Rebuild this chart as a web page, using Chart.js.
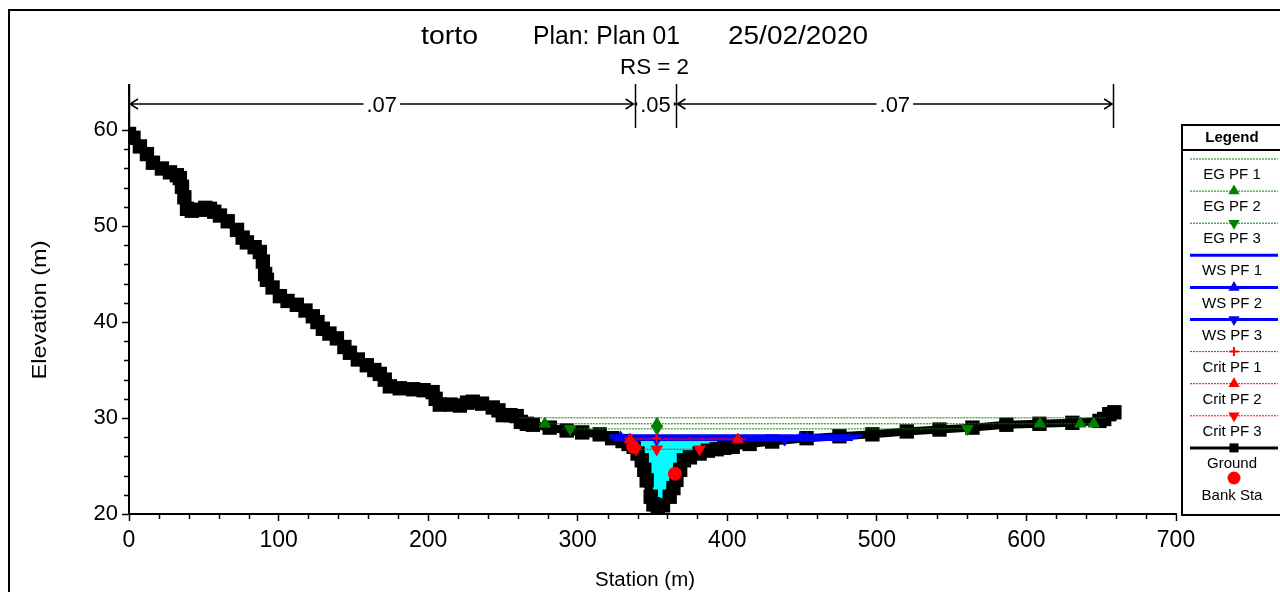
<!DOCTYPE html>
<html lang="en">
<head>
    <meta charset="UTF-8">
    <title>torto - Plan 01 - RS = 2</title>
    <script src="https://cdn.jsdelivr.net/npm/chart.js"></script>
    <style>
        html, body { margin: 0; padding: 0; background: #fff; }
        #wrap { width: 1280px; height: 592px; }
    </style>
</head>
<body>
<div id="wrap"><canvas id="xsChart" width="1280" height="592"></canvas></div>

<script>
    // Ground profile (station m / elevation m)
    const groundSta = [0, 3, 7.3, 12, 16, 22, 27.4, 32, 34, 35.4, 37, 38.8, 42, 47.4, 51, 54.1, 57, 60.8, 66, 72.2,
        76, 78.8, 84, 87.5, 89.5, 91, 92.2, 96, 100.9, 106, 112.2, 118, 122.9, 126, 129.6, 134, 139, 144, 147.7, 153,
        159, 164, 167.7, 171, 174.4, 181, 190, 197, 203, 205, 207.8, 215, 221.2, 226, 229.8, 236, 243.2, 247, 249.9, 255,
        259.2, 262, 266, 270, 281.3, 292.6, 303, 314.7, 323, 330, 334,
        337.4, 340, 342.8, 344.5, 346.1, 348.8, 350.6, 353.5, 357, 361.5, 364, 366, 368.5, 371, 375, 381.5,
        387, 392.9, 398, 403.6, 414.9, 430, 453, 475, 497, 520, 541.9, 563.9,
        586.6, 608.7, 630.7, 648.8, 652, 655.4, 658.8];
    const groundElev = [59.6, 59.2, 58.3, 57.5, 56.6, 56.0, 55.6, 55.3, 55.0, 54.1, 53.0, 51.8, 51.6, 51.7, 51.9, 51.8, 51.5, 51.1, 50.5, 49.6,
        48.8, 48.3, 47.8, 47.3, 46.3, 45.0, 44.4, 43.6, 42.7, 42.2, 41.8, 41.2, 40.6, 40.0, 39.3, 38.8, 38.3, 37.4, 36.8, 36.1,
        35.5, 35.0, 34.6, 34.0, 33.3, 33.1, 33.0, 32.9, 32.7, 32.0, 31.4, 31.4, 31.3, 31.6, 31.7, 31.5, 31.1, 30.8, 30.3, 30.3,
        30.2, 29.6, 29.4, 29.3, 29.0, 28.7, 28.5, 28.3, 27.9, 27.6, 27.3,
        27.0, 26.3, 25.6, 24.6, 23.5, 21.8, 21.0, 20.2, 20.9, 21.8, 22.7, 23.55, 24.6, 25.6, 25.9, 26.3,
        26.6, 26.75, 26.9, 27.0, 27.3, 27.55, 27.9, 28.1, 28.3, 28.6, 28.8, 29.0,
        29.3, 29.4, 29.5, 29.7, 29.9, 30.4, 30.6];

    const bankSta = [337, 365];
    const bankElev = [27.0, 24.2];

    const profileNames = ['PF 1', 'PF 2', 'PF 3'];

    const egElev = [30.02, 29.4, 28.87];
    const egFrom = [261, 274, 290];
    const egTo = [653, 646, 561];
    const egMarks = [[], [278, 353, 609, 636, 645], [295, 353, 560.6]];

    const wsElev = [28.15, 27.95, 27.75];
    const wsFrom = [321, 322, 324];
    const wsTo = [490, 487, 484];
    const wsMarks = [[], [328.7, 449, 453], [333.4, 352.8, 438.3]];

    const critElev = [27.9, 27.75, 26.75];
    const critFrom = [331, 332, 334];
    const critTo = [412, 413, 383];
    const critMarks = [[352.8], [335, 407], [339, 352.8, 381.5]];

    // Manning's n across the section
    const nSta = [0, 338, 366, 658];
    const nVal = ['.07', '.05', '.07'];

    const xTicks = [0, 100, 200, 300, 400, 500, 600, 700];
    const yTicks = [20, 30, 40, 50, 60];

    const FONT = '"Liberation Sans", Arial, sans-serif';

    function levelLine(elev, from, to, marks) {
        const xs = [from].concat(marks, [to]);
        return xs.map((x, i) => ({ x: x, y: elev, mark: i > 0 && i < xs.length - 1 }));
    }

    // water area below the water surface, bounded by the ground around the thalweg
    function waterPolygon(ws) {
        const k = groundElev.indexOf(Math.min(...groundElev));
        let i = k, j = k;
        while (i > 0 && groundElev[i - 1] < ws) i--;
        while (j < groundElev.length - 1 && groundElev[j + 1] < ws) j++;
        const cross = (a, b) => groundSta[a] + (ws - groundElev[a]) * (groundSta[b] - groundSta[a]) / (groundElev[b] - groundElev[a]);
        const pts = [{ x: cross(i - 1, i), y: ws }];
        for (let n = i; n <= j; n++) pts.push({ x: groundSta[n], y: groundElev[n] });
        pts.push({ x: cross(j, j + 1), y: ws });
        return pts;
    }

    const markRadius = (r) => (c) => (c.raw && c.raw.mark ? r : 0);

    function profileSet(kind, idx, elev, from, to, marks, color, width, dash) {
        const styles = [null, 'triangle', 'triangle'];
        let style = styles[idx], rot = idx === 2 ? 180 : 0, r = 6.5;
        if (kind === 'Crit' && idx === 0) { style = 'cross'; r = 4.5; }
        return {
            label: kind + ' ' + profileNames[idx],
            data: levelLine(elev[idx], from[idx], to[idx], marks[idx]),
            showLine: true,
            borderColor: color,
            borderWidth: width,
            borderDash: dash,
            pointStyle: style || 'circle',
            pointRotation: rot,
            pointRadius: markRadius(r),
            pointBackgroundColor: color,
            pointBorderColor: color,
            pointBorderWidth: style === 'cross' ? 2 : 1,
            legendMarker: style ? { style: style, rot: rot, r: r } : null
        };
    }

    const egSets = [0, 1, 2].map(i => profileSet('EG', i, egElev, egFrom, egTo, egMarks, '#008000', 1, [2, 1]));
    const wsSets = [0, 1, 2].map(i => profileSet('WS', i, wsElev, wsFrom, wsTo, wsMarks, '#0000FF', 3, []));
    const critSets = [0, 1, 2].map(i => profileSet('Crit', i, critElev, critFrom, critTo, critMarks, '#FF0000', 1, [2, 1]));

    const groundSet = {
        label: 'Ground',
        data: groundSta.map((s, i) => ({ x: s, y: groundElev[i] })),
        showLine: true,
        borderColor: '#000',
        borderWidth: 8,
        borderJoinStyle: 'bevel',
        pointStyle: 'rect',
        pointRadius: 4.5,
        pointBackgroundColor: '#000',
        pointBorderColor: '#000',
        legendMarker: { style: 'rect', rot: 0, r: 6 }
    };

    const bankSet = {
        label: 'Bank Sta',
        data: bankSta.map((s, i) => ({ x: s, y: bankElev[i] })),
        showLine: false,
        pointStyle: 'circle',
        pointRadius: 6.5,
        pointBackgroundColor: '#FF0000',
        pointBorderColor: '#FF0000',
        noLine: true,
        legendMarker: { style: 'circle', rot: 0, r: 6.5 }
    };

    const waterSet = {
        label: 'water',
        data: waterPolygon(wsElev[0]),
        showLine: true,
        borderWidth: 0,
        pointRadius: 0,
        backgroundColor: '#00FFFF',
        fill: 'shape',
        noLegend: true
    };

    // first in list is drawn on top
    const datasets = [bankSet].concat(critSets.slice().reverse(), wsSets.slice().reverse(),
        egSets.slice().reverse(), [groundSet, waterSet]);
    const legendItems = egSets.concat(wsSets, critSets, [groundSet, bankSet]);

    function drawMarker(ctx, m, x, y, color) {
        ctx.save();
        ctx.fillStyle = color;
        ctx.strokeStyle = color;
        ctx.setLineDash([]);
        ctx.translate(x, y);
        ctx.rotate(m.rot * Math.PI / 180);
        const r = m.r;
        ctx.beginPath();
        if (m.style === 'triangle') {
            ctx.moveTo(0, -r);
            ctx.lineTo(r * 0.866, r * 0.5);
            ctx.lineTo(-r * 0.866, r * 0.5);
            ctx.closePath();
            ctx.fill();
        } else if (m.style === 'rect') {
            const s = r * 0.75;
            ctx.fillRect(-s, -s, 2 * s, 2 * s);
        } else if (m.style === 'circle') {
            ctx.arc(0, 0, r, 0, Math.PI * 2);
            ctx.fill();
        } else if (m.style === 'cross') {
            ctx.lineWidth = 2;
            ctx.moveTo(-r, 0); ctx.lineTo(r, 0);
            ctx.moveTo(0, -r); ctx.lineTo(0, r);
            ctx.stroke();
        }
        ctx.restore();
    }

    function fitText(ctx, text, cx, cy, width, rotate) {
        ctx.save();
        ctx.translate(cx, cy);
        if (rotate) ctx.rotate(-Math.PI / 2);
        const w = ctx.measureText(text).width;
        ctx.scale(width / w, 1);
        ctx.textAlign = 'center';
        ctx.textBaseline = 'middle';
        ctx.fillText(text, 0, 0);
        ctx.restore();
    }

    const decorPlugin = {
        id: 'decor',
        afterDraw(chart) {
            const ctx = chart.ctx;
            const xs = chart.scales.x, ys = chart.scales.y;
            ctx.save();
            ctx.fillStyle = '#000';
            ctx.strokeStyle = '#000';

            // outer frame
            ctx.lineWidth = 2;
            ctx.strokeRect(9, 10, 1300, 600);

            // title lines
            ctx.font = '25px ' + FONT;
            fitText(ctx, 'torto', 449.5, 37, 57, false);
            fitText(ctx, 'Plan: Plan 01', 606.5, 37, 147, false);
            fitText(ctx, '25/02/2020', 798, 37, 140, false);
            ctx.font = '22px ' + FONT;
            fitText(ctx, 'RS = 2', 654.5, 68, 69, false);

            // axis titles
            ctx.font = '20px ' + FONT;
            fitText(ctx, 'Station (m)', 645, 580, 100, false);
            fitText(ctx, 'Elevation (m)', 40, 310, 139, true);

            // minor ticks
            ctx.lineWidth = 1.5;
            ctx.beginPath();
            for (let v = 0; v <= 700; v += 20) {
                if (v % 100 === 0) continue;
                const px = Math.round(xs.getPixelForValue(v)) + 0.5;
                ctx.moveTo(px, ys.bottom);
                ctx.lineTo(px, ys.bottom + 5);
            }
            for (let v = 20; v <= 60; v += 2) {
                if (v % 10 === 0) continue;
                const py = Math.round(ys.getPixelForValue(v)) + 0.5;
                ctx.moveTo(xs.left, py);
                ctx.lineTo(xs.left - 5, py);
            }
            ctx.stroke();

            // n-value bracket
            const yTop = 84, yBot = 128, yArr = 104;
            ctx.lineWidth = 1.5;
            ctx.beginPath();
            nSta.forEach(s => {
                const px = Math.round(xs.getPixelForValue(s)) + 0.5;
                ctx.moveTo(px, yTop);
                ctx.lineTo(px, yBot);
            });
            ctx.stroke();
            ctx.font = '22px ' + FONT;
            ctx.textAlign = 'center';
            ctx.textBaseline = 'middle';
            for (let i = 0; i < nVal.length; i++) {
                const a = xs.getPixelForValue(nSta[i]) + 1;
                const b = xs.getPixelForValue(nSta[i + 1]) - 1;
                ctx.beginPath();
                ctx.moveTo(a, yArr); ctx.lineTo(b, yArr);
                ctx.moveTo(a + 8, yArr - 5); ctx.lineTo(a, yArr); ctx.lineTo(a + 8, yArr + 5);
                ctx.moveTo(b - 8, yArr - 5); ctx.lineTo(b, yArr); ctx.lineTo(b - 8, yArr + 5);
                ctx.stroke();
                const mid = (a + b) / 2;
                const tw = ctx.measureText(nVal[i]).width;
                ctx.fillStyle = '#fff';
                ctx.fillRect(mid - tw / 2 - 3, yArr - 9, tw + 6, 18);
                ctx.fillStyle = '#000';
                ctx.fillText(nVal[i], mid, yArr + 2);
            }

            // legend box
            const L = 1182, T = 125, B = 515, R = 1290;
            ctx.lineWidth = 2;
            ctx.strokeRect(L, T, R - L, B - T);
            ctx.beginPath();
            ctx.moveTo(L, 150); ctx.lineTo(R, 150);
            ctx.stroke();
            const cx = 1232;
            ctx.font = 'bold 15px ' + FONT;
            ctx.fillText('Legend', cx, 138);
            ctx.font = '15px ' + FONT;
            legendItems.forEach((ds, i) => {
                const y = 159 + i * 32.1;
                if (!ds.noLine) {
                    ctx.save();
                    ctx.strokeStyle = ds.borderColor;
                    ctx.lineWidth = Math.min(ds.borderWidth, 3);
                    ctx.setLineDash(ds.borderDash || []);
                    ctx.beginPath();
                    ctx.moveTo(1190, y); ctx.lineTo(1278, y);
                    ctx.stroke();
                    ctx.restore();
                }
                if (ds.legendMarker) {
                    drawMarker(ctx, ds.legendMarker, 1234, ds.noLine ? y - 2 : y, ds.pointBackgroundColor);
                }
                ctx.fillStyle = '#000';
                ctx.fillText(ds.label, cx, y + 16);
            });
            ctx.restore();
        }
    };

    new Chart(document.getElementById('xsChart'), {
        type: 'scatter',
        data: { datasets: datasets },
        options: {
            responsive: false,
            animation: false,
            devicePixelRatio: 1,
            layout: { padding: { left: 0, right: 104, top: 85, bottom: 0 } },
            plugins: {
                legend: { display: false },
                tooltip: { enabled: false }
            },
            scales: {
                x: {
                    type: 'linear',
                    min: 0,
                    max: 700,
                    afterBuildTicks: s => { s.ticks = xTicks.map(v => ({ value: v })); },
                    afterFit: s => { s.height = 78; },
                    ticks: { color: '#000', font: { family: FONT, size: 23 }, padding: 6, maxRotation: 0 },
                    grid: { display: true, drawOnChartArea: false, drawTicks: true, tickLength: 7, color: '#000', tickWidth: 1.5 },
                    border: { display: true, color: '#000', width: 2 }
                },
                y: {
                    type: 'linear',
                    min: 20,
                    max: 64.7,
                    afterBuildTicks: s => { s.ticks = yTicks.map(v => ({ value: v })); },
                    afterFit: s => { s.width = 129; },
                    ticks: { color: '#000', font: { family: FONT, size: 22 }, padding: 4 },
                    grid: { display: true, drawOnChartArea: false, drawTicks: true, tickLength: 7, color: '#000', tickWidth: 1.5 },
                    border: { display: true, color: '#000', width: 2 }
                }
            }
        },
        plugins: [decorPlugin]
    });
</script>
</body>
</html>
